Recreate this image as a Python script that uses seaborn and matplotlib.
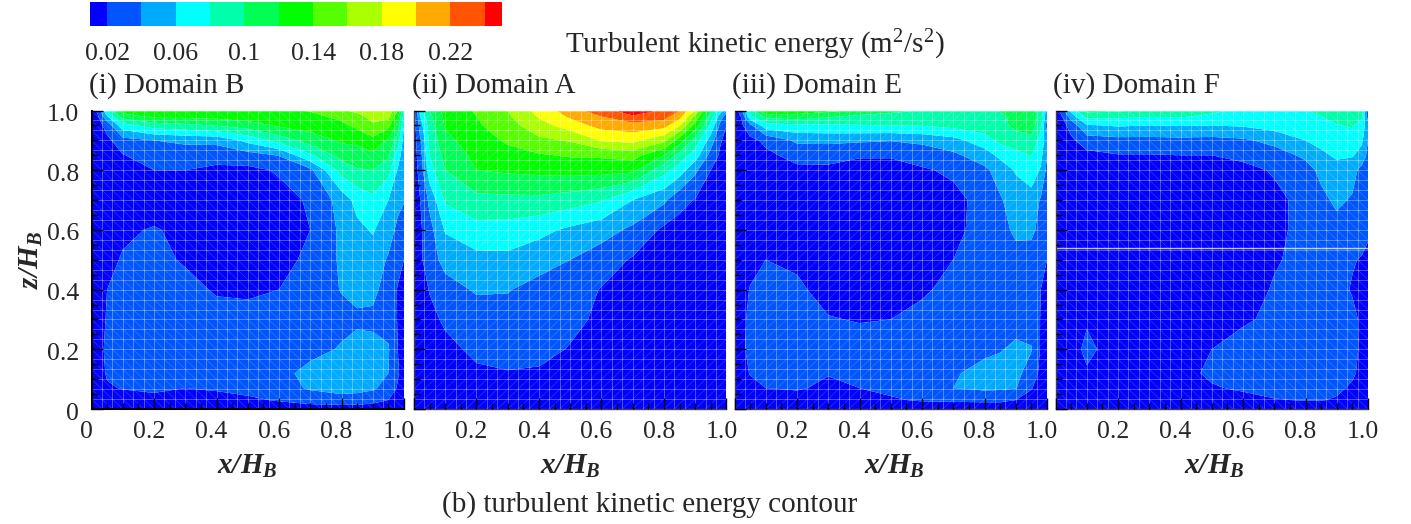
import numpy as np
import matplotlib
matplotlib.use("Agg")
import matplotlib.pyplot as plt
import seaborn as sns
from matplotlib.colors import ListedColormap, BoundaryNorm
from matplotlib.transforms import ScaledTranslation

# contour grid, tke values below are in 1e-3 m2/s2, rows go from z=1 down to z=0
x_grid = [0, .02, .05, .1, .2, .3, .4, .5, .6, .7, .8, .85, .9, .95, .98, 1.0]
z_grid = [1.0, .98, .95, .9, .85, .8, .7, .6, .5, .4, .3, .2, .12, .07, .03, 0]

tke_b = [
    [10, 25, 80, 130, 131, 132, 133, 135, 138, 141, 157, 165, 175, 175, 140, 80],
    [10, 17, 58, 110, 125, 125, 127, 130, 133, 135, 145, 153, 168, 167, 125, 70],
    [9, 12, 28, 72, 90, 95, 101, 110, 123, 128, 135, 145, 156, 146, 113, 60],
    [9, 10, 15, 33, 40, 44, 46, 66, 88, 110, 123, 124, 135, 117, 90, 52],
    [9, 9, 12, 19, 30, 30, 27, 32, 41, 77, 108, 112, 116, 103, 70, 48],
    [9, 9, 10, 12, 20, 20, 16, 15, 22, 35, 88, 98, 100, 87, 58, 44],
    [9, 9, 10, 11, 13, 13, 12, 12, 14, 22, 48, 67, 75, 60, 45, 42],
    [9, 9, 12, 18, 21, 17, 14, 12, 14, 20, 44, 55, 62, 48, 36, 24],
    [9, 10, 17, 21, 25, 18, 14, 12, 14, 24, 43, 50, 50, 38, 25, 20],
    [9, 12, 20, 24, 27, 26, 18, 17, 20, 28, 41, 45, 46, 30, 19, 15],
    [9, 15, 21, 26, 28, 28, 27, 26, 27, 30, 34, 37, 35, 32, 19, 12],
    [9, 13, 24, 28, 29, 28, 27, 26, 29, 33, 42, 46, 47, 42, 20, 12],
    [9, 12, 22, 27, 28, 28, 27, 28, 33, 47, 50, 50, 47, 40, 22, 12],
    [9, 11, 18, 21, 24, 20, 22, 27, 33, 42, 46, 45, 43, 32, 18, 10],
    [9, 9, 10, 12, 14, 13, 14, 16, 22, 30, 34, 33, 28, 20, 12, 9],
    [8, 8, 8, 8, 8, 8, 8, 8, 8, 8, 8, 8, 8, 8, 8, 8],
]
tke_a = [
    [10, 70, 100, 128, 142, 160, 187, 210, 233, 250, 238, 220, 180, 100, 70, 50],
    [10, 60, 95, 125, 140, 157, 182, 203, 220, 238, 228, 207, 155, 90, 50, 30],
    [10, 50, 90, 122, 137, 152, 172, 190, 207, 212, 208, 182, 132, 75, 35, 20],
    [10, 38, 85, 115, 130, 143, 156, 162, 182, 186, 165, 130, 92, 50, 22, 15],
    [10, 32, 80, 107, 125, 133, 138, 142, 143, 148, 120, 92, 70, 33, 17, 12],
    [10, 28, 72, 100, 120, 123, 125, 127, 127, 125, 87, 70, 44, 20, 14, 10],
    [10, 20, 45, 83, 94, 95, 95, 90, 82, 60, 44, 25, 19, 13, 11, 9],
    [10, 17, 33, 62, 73, 72, 66, 56, 48, 36, 16, 14, 12, 11, 10, 9],
    [10, 16, 32, 46, 54, 55, 47, 40, 30, 18, 13, 12, 11, 10, 10, 9],
    [9, 12, 21, 33, 42, 41, 34, 29, 19, 14, 12, 11, 10, 10, 9, 9],
    [9, 11, 15, 23, 31, 33, 31, 24, 17, 13, 12, 11, 10, 10, 9, 9],
    [9, 10, 11, 15, 24, 27, 25, 19, 14, 12, 11, 10, 10, 9, 9, 9],
    [9, 9, 10, 12, 17, 19, 18, 15, 12, 11, 10, 10, 9, 9, 9, 9],
    [9, 9, 9, 10, 13, 15, 14, 13, 11, 10, 10, 9, 9, 9, 9, 9],
    [8, 8, 9, 9, 10, 11, 11, 10, 10, 9, 9, 9, 9, 8, 8, 8],
    [8, 8, 8, 8, 8, 8, 8, 8, 8, 8, 8, 8, 8, 8, 8, 8],
]
tke_e = [
    [10, 30, 85, 142, 132, 125, 115, 106, 99, 95, 97, 101, 106, 110, 90, 50],
    [10, 20, 75, 106, 112, 103, 95, 92, 89, 87, 90, 97, 104, 108, 92, 45],
    [10, 15, 35, 72, 76, 77, 79, 80, 81, 86, 90, 93, 106, 110, 85, 30],
    [10, 11, 15, 24, 44, 45, 43, 41, 45, 53, 72, 85, 90, 94, 72, 50],
    [10, 10, 11, 16, 26, 25, 21, 21, 27, 36, 50, 65, 74, 81, 66, 40],
    [9, 9, 10, 12, 16, 17, 16, 16, 18, 23, 36, 48, 62, 71, 58, 35],
    [9, 9, 9, 10, 11, 12, 12, 12, 13, 15, 26, 38, 49, 52, 38, 28],
    [9, 9, 10, 11, 11, 11, 11, 12, 13, 16, 26, 33, 44, 45, 33, 26],
    [9, 10, 14, 20, 17, 12, 11, 12, 14, 20, 26, 29, 33, 30, 25, 20],
    [9, 12, 21, 26, 23, 14, 12, 14, 18, 24, 27, 28, 30, 28, 20, 15],
    [9, 16, 23, 28, 27, 21, 19, 20, 24, 27, 30, 32, 34, 33, 19, 13],
    [9, 16, 24, 28, 29, 28, 27, 27, 28, 31, 36, 39, 43, 41, 18, 12],
    [9, 13, 21, 27, 25, 21, 25, 27, 30, 38, 46, 46, 45, 32, 15, 11],
    [9, 10, 14, 20, 22, 16, 20, 24, 28, 40, 44, 43, 41, 21, 13, 10],
    [8, 9, 10, 11, 12, 12, 14, 18, 22, 23, 24, 24, 20, 14, 10, 9],
    [8, 8, 8, 8, 8, 8, 8, 8, 8, 8, 8, 8, 8, 8, 8, 8],
]
tke_f = [
    [10, 30, 66, 106, 103, 96, 90, 83, 77, 75, 79, 84, 88, 90, 84, 30],
    [10, 18, 50, 87, 85, 81, 82, 77, 73, 72, 72, 80, 86, 89, 85, 30],
    [10, 12, 28, 58, 62, 60, 61, 60, 62, 68, 74, 77, 79, 82, 70, 50],
    [10, 10, 16, 31, 34, 34, 35, 34, 37, 46, 60, 66, 71, 72, 64, 40],
    [9, 9, 11, 14, 19, 19, 20, 20, 25, 31, 44, 56, 63, 62, 52, 35],
    [9, 9, 10, 10, 12, 12, 12, 13, 14, 22, 32, 45, 53, 47, 34, 28],
    [9, 9, 9, 9, 10, 10, 10, 11, 12, 15, 26, 35, 44, 38, 30, 25],
    [9, 9, 9, 9, 9, 10, 10, 11, 12, 16, 25, 29, 33, 32, 26, 22],
    [9, 9, 9, 10, 10, 10, 10, 11, 13, 19, 23, 24, 24, 21, 19, 17],
    [9, 9, 10, 11, 10, 10, 10, 12, 15, 21, 24, 25, 24, 19, 17, 15],
    [9, 9, 11, 18, 12, 10, 11, 14, 18, 23, 26, 27, 27, 23, 18, 14],
    [9, 9, 13, 24, 12, 10, 12, 20, 26, 27, 28, 29, 29, 25, 17, 13],
    [9, 9, 11, 18, 17, 11, 13, 24, 27, 28, 29, 29, 29, 23, 15, 12],
    [9, 9, 10, 12, 11, 10, 11, 18, 23, 26, 27, 27, 24, 17, 12, 10],
    [8, 9, 9, 10, 10, 10, 10, 11, 13, 19, 21, 21, 18, 13, 10, 9],
    [8, 8, 8, 8, 8, 8, 8, 8, 8, 8, 8, 8, 8, 8, 8, 8],
]

panel_titles = ["(i) Domain B", "(ii) Domain A", "(iii) Domain E", "(iv) Domain F"]
panel_data = [tke_b, tke_a, tke_e, tke_f]
levels = [0, 20, 40, 60, 80, 100, 120, 140, 160, 180, 200, 220, 240, 300]
level_colors = ["#0000ff", "#0055ff", "#00aaff", "#00ffff", "#00ffaa", "#00ff55", "#00ff00",
                "#55ff00", "#aaff00", "#ffff00", "#ffaa00", "#ff5500", "#ff0000"]
colorbar_labels = ["0.02", "0.06", "0.1", "0.14", "0.18", "0.22"]
colorbar_label_levels = [20, 60, 100, 140, 180, 220]
tick_values = [0, .2, .4, .6, .8, 1.0]
tick_labels = ["0", "0.2", "0.4", "0.6", "0.8", "1.0"]

sns.set_theme(style="white")
plt.rcParams["font.family"] = ["Liberation Serif", "DejaVu Serif"]
plt.rcParams["mathtext.fontset"] = "custom"
plt.rcParams["mathtext.rm"] = "Liberation Serif"
plt.rcParams["mathtext.it"] = "Liberation Serif:italic"
plt.rcParams["mathtext.bf"] = "Liberation Serif:bold"
plt.rcParams["mathtext.bfit"] = "Liberation Serif:italic:bold"
plt.rcParams["mathtext.default"] = "regular"

W, H = 1411, 524
fig = plt.figure(figsize=(W / 100, H / 100), dpi=100)


def px_axes(left, top, right, bottom):
    return fig.add_axes([left / W, 1 - bottom / H, (right - left) / W, (bottom - top) / H])


def px_text(x, y, s, **kw):
    kw.setdefault("va", "center")
    kw.setdefault("ha", "center")
    fig.text(x / W, 1 - y / H, s, **kw)


palette = sns.color_palette(level_colors)
cmap = ListedColormap(palette)
norm = BoundaryNorm(levels, cmap.N)

# legend strip: one heatmap cell per 0.01 from 0.01 to 0.25
cb_ax = px_axes(90, 2, 502, 26)
cb_edges = np.arange(10, 250, 10)
sns.heatmap([list(cb_edges + 5)], ax=cb_ax, cmap=cmap, norm=norm, cbar=False,
            xticklabels=False, yticklabels=False)
cb_ax.set_xticks([(v - 10) / 10 for v in colorbar_label_levels])
cb_ax.set_xticklabels(colorbar_labels, fontsize=18.5, rotation=0)
cb_ax.tick_params(axis="x", length=0, pad=12, bottom=True)

panel_left = [91.5, 414, 734.5, 1055.5]
xlabel_px = [247, 570, 894, 1214]
mesh = np.linspace(0, 1, 31)
diag_sign = [-1, 1, 1, -1]
offset_x = ScaledTranslation(-5 / 100, 0, fig.dpi_scale_trans)
offset_y = ScaledTranslation(0, -2 / 100, fig.dpi_scale_trans)

for i, (title, tke) in enumerate(zip(panel_titles, panel_data)):
    left = panel_left[i]
    ax = px_axes(left, 110.5, left + 312.5, 409)
    ax.contourf(x_grid, z_grid, np.array(tke), levels=levels, colors=palette, antialiased=True)

    # faint white triangle mesh over the filled contours
    ax.vlines(mesh, 0, 1, color="white", lw=0.7, alpha=0.32)
    ax.hlines(mesh, 0, 1, color="white", lw=0.7, alpha=0.32)
    for m in mesh[1:]:
        if diag_sign[i] > 0:
            ax.plot([m, 1], [0, 1 - m], color="white", lw=0.5, alpha=0.2)
            ax.plot([0, 1 - m], [m, 1], color="white", lw=0.5, alpha=0.2)
        else:
            ax.plot([0, m], [m, 0], color="white", lw=0.5, alpha=0.2)
            ax.plot([m, 1], [1, m], color="white", lw=0.5, alpha=0.2)
    if diag_sign[i] > 0:
        ax.plot([0, 1], [0, 1], color="white", lw=0.5, alpha=0.2)

    if i == 3:
        ax.axhline(0.54, color="white", lw=1, alpha=0.75)

    ax.set_xlim(0, 1)
    ax.set_ylim(0, 1)
    ax.set_axisbelow(False)
    ax.set_xticks(np.arange(0, 1.01, .05), minor=True)
    ax.set_yticks(np.arange(0, 1.01, .05), minor=True)
    ax.set_xticks(tick_values)
    ax.set_yticks(tick_values)
    ax.set_xticklabels(["" if (t == "0" and i > 0) else t for t in tick_labels], fontsize=18.5)
    if i == 0:
        ax.set_yticklabels(tick_labels, fontsize=18.5)
    else:
        ax.set_yticklabels([])
    ax.tick_params(which="major", direction="in", length=8, width=1, color="black",
                   bottom=True, left=True, pad=9)
    ax.tick_params(which="minor", direction="in", length=4, width=1, color="black",
                   bottom=True, left=True)
    for lab in ax.get_xticklabels():
        lab.set_transform(lab.get_transform() + offset_x)
    for lab in ax.get_yticklabels():
        lab.set_transform(lab.get_transform() + offset_y)

    sns.despine(ax=ax, top=True, right=True)
    for side in ["left", "bottom"]:
        ax.spines[side].set_color("black" if i == 0 else "#444444")
        ax.spines[side].set_linewidth(1.5 if i == 0 else 1)

    px_text(left - 2.5, 86, title, ha="left", fontsize=21)
    px_text(xlabel_px[i], 466, r"$\mathbfit{x/H_B}$", fontsize=21)

px_text(31, 260, r"$\mathbfit{z/H_B}$", fontsize=21, rotation=90)
px_text(755, 45, "Turbulent kinetic energy (m$^{2}$/s$^{2}$)", fontsize=21)
px_text(650, 505, "(b) turbulent kinetic energy contour", fontsize=21)

fig.savefig("out.png", dpi=100)
